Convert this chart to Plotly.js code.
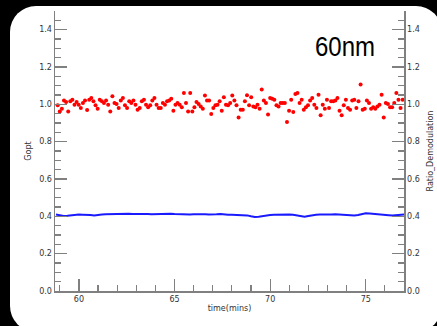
<!DOCTYPE html>
<html>
<head>
<meta charset="utf-8">
<script src="https://cdn.plot.ly/plotly-3.0.1.min.js"></script>
<style>
  html, body { margin:0; padding:0; background:#000; width:437px; height:326px; overflow:hidden; }
  #panel { position:absolute; left:10px; top:6px; width:432px; height:326px; background:#fff; border-radius:26px; }
  #chart { position:absolute; left:0; top:0; width:437px; height:326px; }
</style>
</head>
<body>
<div id="panel"></div>
<div id="chart"></div>
<script>
// Ratio (red dots), time starts at 58.89 min, spacing 0.11 min
const ratioStart = 58.89;
const ratioStep = 0.11;
const ratioValues = [
  0.995, 0.962, 0.977, 1.020, 1.013, 0.962, 1.016, 1.025, 0.998, 1.013,
  0.998, 0.980, 1.007, 1.020, 0.970, 1.025, 1.034, 1.016, 0.995, 0.977,
  1.025, 1.016, 1.007, 1.020, 0.998, 0.962, 1.043, 1.007, 1.002, 0.980,
  1.020, 1.034, 0.995, 0.980, 1.016, 1.007, 1.020, 0.998, 0.971, 0.980,
  1.016, 1.025, 0.998, 0.984, 0.995, 1.020, 1.034, 0.998, 0.980,
  0.980, 1.007, 0.998, 1.016, 1.020, 1.030, 0.966, 0.998, 1.007, 0.998,
  0.984, 1.061, 1.007, 0.962, 1.061, 0.962, 0.984, 1.013, 1.002, 0.989,
  0.977, 1.047, 1.020, 1.020, 0.948, 0.980, 0.995, 0.998, 1.016, 0.966,
  1.038, 0.998, 0.995, 1.007, 1.047, 1.020, 0.995, 0.930, 0.971, 0.971,
  1.016, 1.048, 0.995, 1.038, 0.989, 0.984, 0.998, 0.977, 1.080, 1.020,
  1.007, 0.945, 1.034, 1.030,
  1.025, 0.995, 0.989, 1.007, 1.007, 1.007, 0.905, 0.966, 1.025, 0.959,
  1.055, 1.061, 1.007, 1.025, 0.971, 0.984, 0.995, 1.020, 1.034, 0.998,
  0.980, 1.052, 0.941, 0.998, 0.977, 1.025, 0.980, 1.016, 1.016, 1.020,
  1.034, 0.966, 0.941, 0.995, 1.025, 0.980, 0.971, 1.020, 1.025, 0.980,
  1.016, 1.106, 0.971, 0.977, 1.020, 1.007, 0.977, 0.984, 0.977, 0.989,
  0.998, 1.052, 0.930, 1.007, 1.002, 0.984, 0.984, 1.007, 1.061, 1.025,
  0.980, 1.025
];

// Gopt (blue line), time starts at 58.8 min, spacing 0.2 min
const goptStart = 58.8;
const goptStep = 0.2;
const goptValues = [
  0.410, 0.404, 0.402, 0.403, 0.406, 0.409, 0.410, 0.409, 0.410, 0.407,
  0.404, 0.408, 0.410, 0.411, 0.412, 0.413, 0.412, 0.414, 0.413, 0.414,
  0.412, 0.413, 0.414, 0.412, 0.413, 0.411, 0.412, 0.413, 0.411, 0.412,
  0.414, 0.412, 0.411, 0.413, 0.412, 0.410, 0.411, 0.412, 0.410, 0.411,
  0.410, 0.409, 0.411, 0.412, 0.409, 0.408, 0.409, 0.408, 0.410, 0.409,
  0.405, 0.400, 0.396, 0.398, 0.402, 0.404, 0.407, 0.408, 0.409, 0.410,
  0.409, 0.410, 0.409, 0.404, 0.399, 0.398, 0.402, 0.407, 0.409, 0.410,
  0.409, 0.411, 0.410, 0.411, 0.409, 0.410, 0.408, 0.406, 0.405, 0.407,
  0.412, 0.417, 0.415, 0.414, 0.412, 0.411, 0.408, 0.406, 0.404, 0.405,
  0.407, 0.410
];

const xTickVals = [60, 65, 70, 75];
const yTickVals = [0.0, 0.2, 0.4, 0.6, 0.8, 1.0, 1.2, 1.4];

const axisColor = '#808080';
const labelFont = { family: 'DejaVu Sans, sans-serif', size: 8, color: '#333' };

function yAxisCommon() {
  return {
    range: [0, 1.5],
    tickvals: yTickVals,
    tickformat: '.1f',
    ticks: 'inside',
    ticklen: 12,
    tickwidth: 1.2,
    tickcolor: axisColor,
    minor: { dtick: 0.05, ticks: 'inside', ticklen: 6, tickwidth: 1.2, tickcolor: axisColor, showgrid: false },
    showline: true,
    linecolor: axisColor,
    linewidth: 1.5,
    showgrid: false,
    zeroline: false,
    tickfont: labelFont,
    fixedrange: true
  };
}

const traces = [
  {
    type: 'scatter', mode: 'lines',
    x0: goptStart, dx: goptStep, y: goptValues,
    line: { color: '#1a1aff', width: 2 },
    xaxis: 'x', yaxis: 'y', showlegend: false, hoverinfo: 'skip'
  },
  {
    type: 'scatter', mode: 'markers',
    x0: ratioStart, dx: ratioStep, y: ratioValues,
    marker: { color: '#ff0000', size: 4, line: { width: 0 } },
    xaxis: 'x', yaxis: 'y2', showlegend: false, hoverinfo: 'skip'
  }
];

const yLeft = yAxisCommon();
yLeft.title = { text: 'Gopt', font: labelFont, standoff: 6 };
const yRight = yAxisCommon();
Object.assign(yRight, {
  overlaying: 'y', side: 'right', anchor: 'x',
  title: { text: 'Ratio_Demodulation', font: labelFont, standoff: 8 }
});

const layout = {
  width: 437, height: 326,
  margin: { l: 55, r: 33, t: 11, b: 35, pad: 0 },
  paper_bgcolor: 'rgba(0,0,0,0)',
  plot_bgcolor: 'rgba(0,0,0,0)',
  showlegend: false,
  xaxis: {
    range: [58.75, 77],
    tickvals: xTickVals,
    ticks: 'inside',
    ticklen: 12,
    tickwidth: 1.2,
    tickcolor: axisColor,
    minor: { dtick: 1, ticks: 'inside', ticklen: 6, tickwidth: 1.2, tickcolor: axisColor, showgrid: false },
    showline: true,
    linecolor: axisColor,
    linewidth: 1.5,
    showgrid: false,
    zeroline: false,
    tickfont: labelFont,
    title: { text: 'time(mins)', font: labelFont, standoff: 2 },
    fixedrange: true
  },
  yaxis: yLeft,
  yaxis2: yRight,
  annotations: [{
    text: '60nm', xref: 'paper', yref: 'paper', x: 0.831, y: 0.875,
    xanchor: 'center', yanchor: 'middle', showarrow: false,
    font: { family: 'Liberation Sans, Arial, sans-serif', size: 28, color: '#000' }
  }]
};

Plotly.newPlot('chart', traces, layout, { displayModeBar: false, staticPlot: true }).then(function (gd) {
  // condense the "60nm" label horizontally like the narrow face in the reference
  gd.querySelectorAll('.annotation-text').forEach(function (t) {
    t.setAttribute('textLength', '60');
    t.setAttribute('lengthAdjust', 'spacingAndGlyphs');
  });
});
</script>
</body>
</html>
